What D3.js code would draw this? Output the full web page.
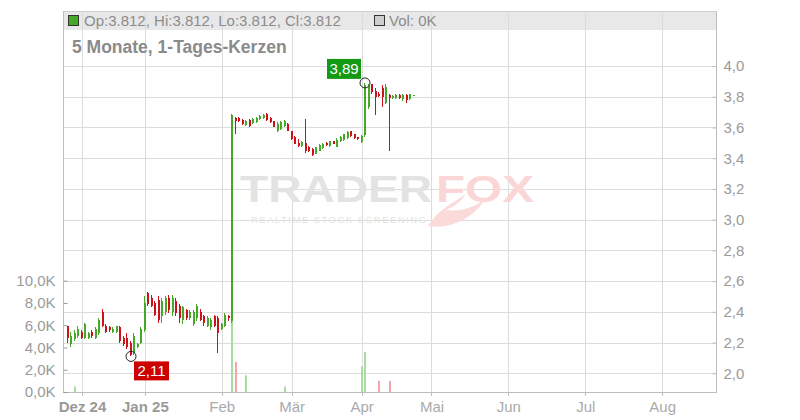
<!DOCTYPE html>
<html><head><meta charset="utf-8">
<script src="https://cdn.jsdelivr.net/npm/d3@7"></script>
<style>body{margin:0;background:#fff}svg{display:block;font-family:"Liberation Sans",Arial,sans-serif}</style>
</head><body><svg id="c" width="800" height="420"></svg>
<script>
// ---- data (trading-day index 0..99, 25 Nov 2024 – 23 Apr 2025) ----
const openP = [2.31,2.19,2.22,2.24,2.27,2.23,2.23,2.27,2.23,2.26,
2.40,2.31,2.30,2.27,2.27,2.30,2.23,2.23,2.20,2.13,
2.17,2.20,2.28,2.52,2.49,2.46,2.48,2.37,2.40,2.49,
2.40,2.47,2.44,2.35,2.41,2.36,2.32,2.36,2.40,2.37,
2.31,2.30,2.37,2.36,2.29,2.31,2.37,2.34,3.66,3.66,
3.65,3.615,3.65,3.63,3.635,3.655,3.66,3.69,3.66,3.64,
3.575,3.59,3.61,3.625,3.575,3.535,3.50,3.48,3.50,3.475,
3.46,3.43,3.45,3.465,3.50,3.48,3.51,3.475,3.51,3.52,
3.53,3.575,3.555,3.535,3.505,3.55,3.73,3.885,3.84,3.815,
3.86,3.76,3.81,3.79,3.79,3.81,3.785,3.81,3.785,3.812];
const highP = [2.31,2.27,2.28,2.31,2.28,2.33,2.27,2.28,2.30,2.36,
2.42,2.32,2.31,2.30,2.31,2.31,2.24,2.26,2.21,2.26,
2.20,2.30,2.50,2.53,2.51,2.47,2.50,2.49,2.50,2.51,
2.51,2.49,2.45,2.44,2.42,2.41,2.41,2.45,2.42,2.38,
2.37,2.36,2.38,2.37,2.33,2.39,2.38,3.69,3.67,3.665,
3.655,3.65,3.655,3.66,3.665,3.68,3.685,3.695,3.665,3.645,
3.635,3.64,3.65,3.63,3.58,3.545,3.525,3.51,3.655,3.48,
3.465,3.475,3.49,3.50,3.505,3.515,3.515,3.53,3.545,3.56,
3.575,3.58,3.56,3.54,3.55,3.89,3.885,3.885,3.86,3.83,
3.875,3.88,3.815,3.81,3.815,3.815,3.815,3.815,3.82,3.812];
const lowP = [2.20,2.17,2.21,2.23,2.22,2.22,2.22,2.23,2.22,2.25,
2.30,2.26,2.27,2.26,2.26,2.20,2.18,2.16,2.11,2.12,
2.165,2.19,2.27,2.44,2.43,2.37,2.33,2.33,2.38,2.39,
2.37,2.37,2.33,2.32,2.35,2.35,2.31,2.34,2.34,2.31,
2.30,2.28,2.30,2.13,2.28,2.30,2.34,2.33,3.56,3.635,
3.615,3.61,3.605,3.625,3.63,3.65,3.655,3.645,3.63,3.60,
3.57,3.585,3.605,3.575,3.52,3.49,3.475,3.47,3.435,3.44,
3.415,3.425,3.445,3.46,3.48,3.475,3.49,3.47,3.505,3.515,
3.525,3.54,3.525,3.52,3.50,3.54,3.72,3.82,3.68,3.80,
3.735,3.755,3.45,3.785,3.785,3.785,3.775,3.76,3.78,3.812];
const closeP = [2.23,2.24,2.26,2.29,2.23,2.32,2.26,2.24,2.29,2.35,
2.31,2.27,2.28,2.29,2.31,2.21,2.19,2.17,2.12,2.24,
2.19,2.29,2.46,2.45,2.44,2.38,2.35,2.47,2.49,2.41,
2.49,2.39,2.36,2.43,2.36,2.40,2.40,2.44,2.35,2.33,
2.36,2.35,2.31,2.26,2.32,2.38,2.36,3.68,3.645,3.64,
3.625,3.645,3.61,3.655,3.66,3.675,3.68,3.65,3.635,3.605,
3.625,3.635,3.645,3.58,3.525,3.495,3.48,3.505,3.445,3.445,
3.42,3.47,3.485,3.495,3.485,3.51,3.495,3.52,3.54,3.555,
3.57,3.545,3.53,3.525,3.545,3.875,3.87,3.83,3.80,3.805,
3.80,3.865,3.79,3.805,3.81,3.79,3.81,3.78,3.815,3.812];
const volumeK = [0,0,0.5,0,0,0,0,0,0,0,
0,0,0,0,0,0,0,0,0,0,
0,0,0,0,0,0,0,0,0,0,
0,0,0,0,0,0,0,0,0,0,
0,0,0,0,0,0,0,9.5,2.7,0,
0,1.5,0,0,0,0,0,0,0,0,
0,0,0.5,0,0,0,0,0,0,0,
0,0,0,0,0,0,0,0,0,0,
0,0,0,0,2.3,3.6,0,0,0,1.0,
0,0,1.0,0,0,0,0,0,0,0];
const monthLabels = ["Dez 24","Jan 25","Feb","Mär","Apr","Mai","Jun","Jul","Aug"];
const monthIdx = [5,23,45,65,85,105,127,149,171];
const monthBold = [true,true,false,false,false,false,false,false,false];
const priceTicks = [2.0,2.2,2.4,2.6,2.8,3.0,3.2,3.4,3.6,3.8,4.0];
const volTicks = [0,2,4,6,8,10];
const hiIdx = 85, hiLabel = "3,89";
const loIdx = 18, loLabel = "2,11";
const legendText = "Op:3.812, Hi:3.812, Lo:3.812, Cl:3.812";
const volText = "Vol: 0K";
const titleText = "5 Monate, 1-Tages-Kerzen";

// ---- layout ----
const L = 63, R = 716, T = 11, B = 392;
const GREEN = "#46a828", RED = "#cc1118";
const svg = d3.select("#c");
const x = d3.scaleLinear().domain([-0.43, 186.4]).range([L, R]);
const y = d3.scaleLinear().domain([2, 4]).range([373.3, 66]);
const yv = d3.scaleLinear().domain([0, 10]).range([B, 280.7]);
const cx = i => Math.round(x(i + 0.7));
const fmt = v => d3.format(".1f")(v).replace(".", ",");

// legend bar
svg.append("rect").attr("x", L).attr("y", T).attr("width", R - L).attr("height", 19)
  .attr("fill", "#e8e8e8");
svg.append("line").attr("x1", L).attr("x2", R).attr("y1", T + 0.5).attr("y2", T + 0.5).attr("stroke", "#cfcfcf");

// gridlines
svg.append("g").selectAll("line").data(priceTicks).join("line")
  .attr("x1", L).attr("x2", R).attr("y1", d => Math.round(y(d)) + 0.5).attr("y2", d => Math.round(y(d)) + 0.5)
  .attr("stroke", "#dcdcdc");
svg.append("g").selectAll("line").data(monthIdx).join("line")
  .attr("x1", d => Math.round(x(d)) + 0.5).attr("x2", d => Math.round(x(d)) + 0.5)
  .attr("y1", T).attr("y2", B).attr("stroke", "#dcdcdc");

// watermark
const wm = svg.append("g");
wm.append("text").attr("x", 240).attr("y", 202).attr("font-size", 36).attr("font-weight", "bold")
  .attr("textLength", 192).attr("lengthAdjust", "spacingAndGlyphs").attr("fill", "#e3e3e3").text("TRADER");
wm.append("text").attr("x", 436).attr("y", 202).attr("font-size", 36).attr("font-weight", "bold")
  .attr("textLength", 98).attr("lengthAdjust", "spacingAndGlyphs").attr("fill", "#fad6d6").text("FOX");
wm.append("text").attr("x", 251).attr("y", 223).attr("font-size", 9.5)
  .attr("textLength", 175).attr("lengthAdjust", "spacing").attr("fill", "#e3e3e3").text("REALTIME STOCK SCREENING");
wm.append("path").attr("d", "M428,226 C450,230 474,218 486,198 C478,206 462,212 446,210 C456,206 462,200 466,194 C452,204 440,208 428,226 Z")
  .attr("fill", "#fbdada");

// volume bars
svg.append("g").selectAll("rect").data(volumeK.map((v, i) => ({v, i})).filter(d => d.v > 0)).join("rect")
  .attr("x", d => cx(d.i)).attr("width", 2)
  .attr("y", d => yv(d.v)).attr("height", d => B - yv(d.v))
  .attr("fill", d => closeP[d.i] >= openP[d.i] ? "#a9dca0" : "#f2a6ae");

// candles
const candles = openP.map((o, i) => ({i, o, h: highP[i], l: lowP[i], c: closeP[i]}));
const cg = svg.append("g").attr("shape-rendering", "crispEdges").selectAll("g").data(candles).join("g")
  .attr("fill", d => d.c >= d.o ? GREEN : RED);
cg.append("rect").attr("x", d => cx(d.i)).attr("width", 1)
  .attr("y", d => y(d.h)).attr("height", d => Math.max(1, y(d.l) - y(d.h)));
cg.append("rect").attr("x", d => cx(d.i)).attr("width", 2)
  .attr("y", d => y(Math.max(d.o, d.c)))
  .attr("height", d => Math.max(1, Math.abs(y(d.o) - y(d.c))));

// high / low markers
const hx = cx(hiIdx) + 1, hy = y(highP[hiIdx]);
const lx = cx(loIdx) + 1, ly = y(lowP[loIdx]);
svg.append("circle").attr("cx", hx).attr("cy", hy).attr("r", 5).attr("fill", "none").attr("stroke", "#222");
svg.append("circle").attr("cx", lx).attr("cy", ly).attr("r", 5).attr("fill", "none").attr("stroke", "#222");
svg.append("rect").attr("x", hx - 38).attr("y", hy - 24).attr("width", 34).attr("height", 20).attr("fill", "#149914");
svg.append("text").attr("x", hx - 21).attr("y", hy - 8.5).attr("text-anchor", "middle").attr("font-size", 15)
  .attr("fill", "#fff").text(hiLabel);
svg.append("rect").attr("x", lx + 3).attr("y", ly + 5).attr("width", 35).attr("height", 19).attr("fill", "#cc0000");
svg.append("text").attr("x", lx + 20.5).attr("y", ly + 20).attr("text-anchor", "middle").attr("font-size", 15)
  .attr("fill", "#fff").text(loLabel);

// axes lines
const axisCol = "#bdbdbd";
svg.append("line").attr("x1", L + 0.5).attr("x2", L + 0.5).attr("y1", T).attr("y2", B).attr("stroke", axisCol);
svg.append("line").attr("x1", R + 0.5).attr("x2", R + 0.5).attr("y1", T).attr("y2", B).attr("stroke", axisCol);
svg.append("line").attr("x1", L).attr("x2", R + 1).attr("y1", B + 0.5).attr("y2", B + 0.5).attr("stroke", axisCol);

// right price axis
const ra = svg.append("g").attr("transform", `translate(${R + 0.5},0)`)
  .call(d3.axisRight(y).tickValues(priceTicks).tickFormat(fmt).tickSizeInner(-4).tickSizeOuter(0).tickPadding(7));
ra.select(".domain").remove();
ra.selectAll("line").attr("stroke", axisCol);
ra.selectAll("text").attr("fill", "#9a9a9a").attr("font-size", 15).attr("font-family", "Liberation Sans, Arial, sans-serif");

// left volume axis
const la = svg.append("g").attr("transform", `translate(${L + 0.5},0)`)
  .call(d3.axisLeft(yv).tickValues(volTicks).tickFormat(v => fmt(v) + "K").tickSizeInner(-4).tickSizeOuter(0).tickPadding(8));
la.select(".domain").remove();
la.selectAll("line").attr("stroke", "#999");
la.selectAll("text").attr("fill", "#9a9a9a").attr("font-size", 15).attr("font-family", "Liberation Sans, Arial, sans-serif");

// bottom month axis
const bg = svg.append("g");
bg.selectAll("line").data(monthIdx).join("line")
  .attr("x1", d => Math.round(x(d)) + 0.5).attr("x2", d => Math.round(x(d)) + 0.5)
  .attr("y1", B).attr("y2", B + 4).attr("stroke", axisCol);
bg.selectAll("text").data(monthLabels).join("text")
  .attr("x", (d, i) => x(monthIdx[i]) + 0.5).attr("y", 412).attr("text-anchor", "middle")
  .attr("font-size", 15).attr("font-weight", (d, i) => monthBold[i] ? "bold" : "normal")
  .attr("fill", (d, i) => monthBold[i] ? "#999" : "#aaa").text(d => d);

// legend content
svg.append("rect").attr("x", 68.5).attr("y", 15.5).attr("width", 10).attr("height", 10)
  .attr("fill", GREEN).attr("stroke", "#333");
svg.append("text").attr("x", 84).attr("y", 26).attr("font-size", 15).attr("fill", "#8c8c8c").text(legendText);
svg.append("rect").attr("x", 374.5).attr("y", 15.5).attr("width", 10).attr("height", 10)
  .attr("fill", "#cfcfcf").attr("stroke", "#333");
svg.append("text").attr("x", 389).attr("y", 26).attr("font-size", 15).attr("fill", "#8c8c8c").text(volText);

// title
svg.append("text").attr("x", 72).attr("y", 53).attr("font-size", 17.5).attr("font-weight", "bold")
  .attr("fill", "#8a8a8a").text(titleText);
</script></body></html>
